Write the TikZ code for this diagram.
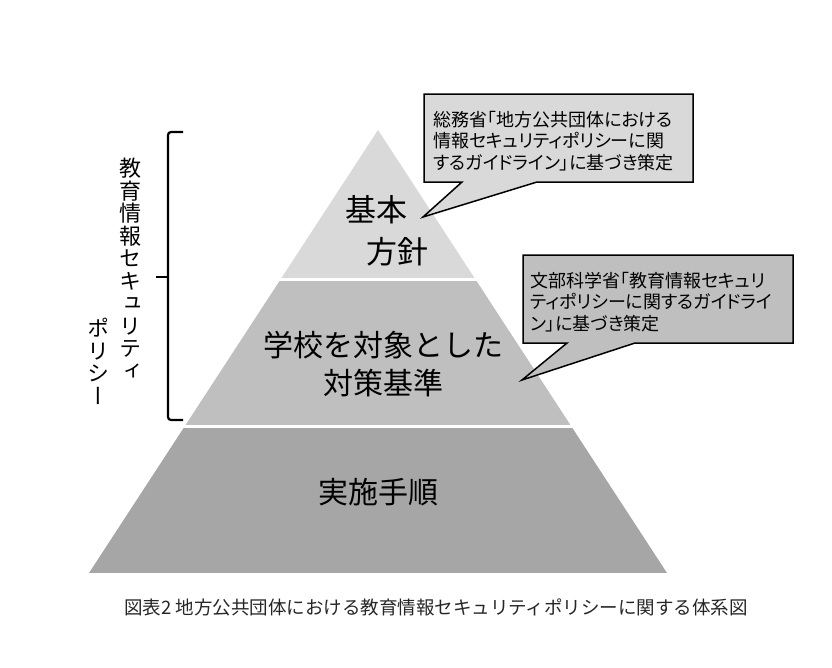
\documentclass[tikz,border=0pt]{standalone}
\usepackage{fontspec}
\setmainfont{Noto Sans CJK JP}
\newfontfamily\jpvert[RawFeature=+vert]{Noto Sans CJK JP}
\newfontfamily\jpprop[RawFeature=+palt]{Noto Sans CJK JP}
\usetikzlibrary{calc}
\definecolor{tierA}{HTML}{D9D9D9}
\definecolor{tierB}{HTML}{BFBFBF}
\definecolor{tierC}{HTML}{A6A6A6}

\begin{document}
\begin{tikzpicture}[x=1pt,y=-1pt,
 tier/.style={font=\fontsize{30}{38}\selectfont,align=center,inner sep=0pt},
 note/.style={draw=black,line width=1.5pt,line join=miter},
 notetext/.style={font=\jpprop\fontsize{18}{21.5}\selectfont,align=left,anchor=north west,inner sep=0pt},
 vtext/.style={font=\jpvert\fontsize{22}{22.5}\selectfont,align=center,anchor=north,inner sep=0pt}]
\useasboundingbox (0,0) rectangle (832,667);
% pyramid in three tiers
\coordinate (apex) at (378,130);
\coordinate (bl) at (89,573);
\coordinate (br) at (667,573);
\begin{scope}
\clip (apex) -- (br) -- (bl) -- cycle;
\foreach \c/\ya/\yb in {tierA/120/278,tierB/281/425,tierC/428/573}
  \fill[\c] (0,\ya) rectangle (832,\yb);
\end{scope}
\node[tier,align=left,font=\fontsize{31}{42}\selectfont] (kihon) at (387,231) {基本\\\hspace{0.68em}方針};
\node[tier] (taisaku) at (383,364) {学校を対象とした\\対策基準};
\node[tier] (tejun) at (378,492) {実施手順};
% callouts
\coordinate (soumutip) at (423,217);
\draw[note,fill=tierA] (424,94) -- (693,94) -- (693,182) -- (537,182) -- (soumutip) -- (462,182) -- (424,182) -- cycle;
\node[notetext] (soumu) at (433,111) {総務省「地方公共団体における\\情報セキュリティポリシーに関\\するガイドライン」に基づき策定};
\coordinate (monkatip) at (522,380);
\draw[note,fill=tierB] (523,255) -- (793,255) -- (793,343) -- (635,343) -- (monkatip) -- (567,343) -- (523,343) -- cycle;
\node[notetext] (monka) at (530,272) {文部科学省「教育情報セキュリ\\ティポリシーに関するガイドライ\\ン」に基づき策定};
% bracket and vertical label
\draw[line width=2.2pt,rounded corners=3pt] (183,132) -- (168,132) -- (168,420) -- (183,420);
\draw[line width=2.2pt] (168,277) -- (156,277);
\node[vtext] (vcolA) at (130,158) {教\\育\\情\\報\\セ\\キ\\ュ\\リ\\テ\\ィ};
\node[vtext] (vcolB) at (98,318) {ポ\\リ\\シ\\ー};
% caption
\node[font=\fontsize{18.5}{19}\selectfont,text=black!85] (caption) at (436,607) {図表2 地方公共団体における教育情報セキュリティポリシーに関する体系図};
\end{tikzpicture}
\end{document}
